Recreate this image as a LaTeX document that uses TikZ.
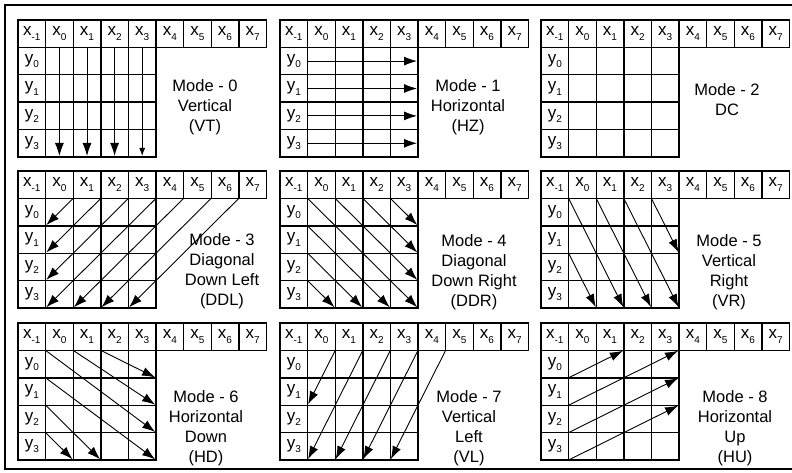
\documentclass[tikz,border=0pt]{standalone}
\usepackage{fontspec}
\setmainfont{Liberation Sans}
\usetikzlibrary{arrows.meta}
\newcommand{\lab}[2]{#1\raisebox{-0.5ex}{\fontsize{10}{10}\selectfont#2}}
\newcommand{\cw}{27.6}
\newcommand{\ch}{27.4}
\newcommand{\modegrid}[3]{%
\begin{scope}[shift={(#2,#3)}]
\foreach \c in {0,...,9}
  \foreach \r in {0,...,5}
    \coordinate (#1-\c-\r) at ({\c*\cw},{\r*\ch});
\foreach \c [evaluate=\c as \k using int(\c-1)] in {0,...,8}
  \node[cell] (#1-x\k) at ({(\c+0.5)*\cw},{0.5*\ch}) {\lab{x}{\k}};
\foreach \r [evaluate=\r as \k using int(\r-1)] in {1,...,4}
  \node[cell] (#1-y\k) at ({0.5*\cw},{(\r+0.5)*\ch}) {\lab{y}{\k}};
\draw[gridline] (#1-1-1) rectangle (#1-5-5);
\foreach \c in {2,3,4} \draw[gridline] (#1-\c-1) -- (#1-\c-5);
\foreach \r in {2,3,4} \draw[gridline] (#1-1-\r) -- (#1-5-\r);
\end{scope}}
\begin{document}
\begin{tikzpicture}[x=1pt,y=-1pt,
  cell/.style={draw,line width=1.4pt,minimum width=\cw pt,minimum height=\ch pt,
    inner sep=0pt,font=\fontsize{17}{17}\selectfont},
  gridline/.style={line width=1.4pt},
  pred/.style={-{Latex[length=13pt,width=9pt]},line width=0.9pt,shorten >=1pt},
  predsmall/.style={-{Latex[length=8pt,width=6pt]},line width=0.9pt,shorten >=1pt},
  modetext/.style={align=center,font=\fontsize{16.5}{20}\selectfont}]
\useasboundingbox (0,0) rectangle (792,473);
\draw[line width=1.2pt] (792,5) -- (5,5) -- (5,469) -- (792,469);

\modegrid{m0}{18}{20}
\modegrid{m1}{280}{20}
\modegrid{m2}{541}{20}
\modegrid{m3}{18}{171}
\modegrid{m4}{280}{171}
\modegrid{m5}{541}{171}
\modegrid{m6}{18}{323}
\modegrid{m7}{280}{323}
\modegrid{m8}{541}{323}

\foreach \k in {0,1,2}
  \draw[pred] (m0-x\k.south) -- (m0-x\k.south |- m0-0-5);
\draw[predsmall] (m0-x3.south) -- (m0-x3.south |- m0-0-5);
\foreach \k in {0,...,3}
  \draw[pred] (m1-y\k.east) -- (m1-y\k.east -| m1-5-0);
\foreach \a/\b in {2-1/1-2,3-1/1-3,4-1/1-4,5-1/1-5,6-1/2-5,7-1/3-5,8-1/4-5}
  \draw[pred] (m3-\a) -- (m3-\b);
\foreach \a/\b in {1-1/5-5,2-1/5-4,3-1/5-3,4-1/5-2,1-2/4-5,1-3/3-5,1-4/2-5}
  \draw[pred] (m4-\a) -- (m4-\b);
\foreach \a/\b in {1-1/3-5,2-1/4-5,3-1/5-5,4-1/5-3,1-3/2-5}
  \draw[pred] (m5-\a) -- (m5-\b);
\foreach \a/\b in {3-1/5-2,2-1/5-3,1-1/5-4,1-2/5-5,1-3/3-5,1-4/2-5}
  \draw[pred] (m6-\a) -- (m6-\b);
\foreach \a/\b in {2-1/1-3,3-1/1-5,4-1/2-5,5-1/3-5,6-1/4-5}
  \draw[pred] (m7-\a) -- (m7-\b);
\foreach \a/\b in {1-2/3-1,1-3/5-1,1-4/5-2,1-5/5-3}
  \draw[pred] (m8-\a) -- (m8-\b);

\node[modetext] (t0) at (205,107) {Mode - 0\\Vertical\\(VT)};
\node[modetext] (t1) at (468,107) {Mode - 1\\Horizontal\\(HZ)};
\node[modetext] (t2) at (727,100) {Mode - 2\\DC};
\node[modetext] (t3) at (222,271) {Mode - 3\\Diagonal\\Down Left\\(DDL)};
\node[modetext] (t4) at (474,272) {Mode - 4\\Diagonal\\Down Right\\(DDR)};
\node[modetext] (t5) at (729,272) {Mode - 5\\Vertical\\Right\\(VR)};
\node[modetext] (t6) at (206,428) {Mode - 6\\Horizontal\\Down\\(HD)};
\node[modetext] (t7) at (469,428) {Mode - 7\\Vertical\\Left\\(VL)};
\node[modetext] (t8) at (735,428) {Mode - 8\\Horizontal\\Up\\(HU)};
\end{tikzpicture}
\end{document}
